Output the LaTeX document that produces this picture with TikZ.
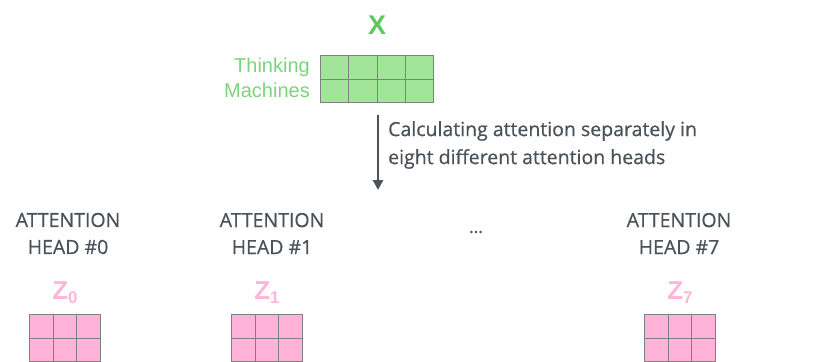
\documentclass[tikz,border=0pt]{standalone}
\usepackage{fontspec}
\setmainfont{Open Sans}
\newfontfamily\medsans{Open Sans}[FakeBold=0.6]
\newfontfamily\helv{Liberation Sans}
\usetikzlibrary{arrows.meta, positioning}
\definecolor{xgreen}{HTML}{5CC85C}
\definecolor{cellgreen}{HTML}{A3E49B}
\definecolor{wordgreen}{HTML}{7AD47A}
\definecolor{cellpink}{HTML}{FFB3D9}
\definecolor{zpink}{HTML}{FFB6DA}
\definecolor{textgray}{HTML}{4A525A}
\definecolor{gridgray}{HTML}{808080}

\begin{document}
\begin{tikzpicture}[x=1pt, y=-1pt,
    gcell/.style={draw=gridgray, fill=cellgreen, line width=1pt, inner sep=0pt,
      minimum width=28.25pt, minimum height=23.5pt, anchor=north west},
    pcell/.style={draw=gridgray, fill=cellpink, line width=1pt, inner sep=0pt,
      minimum width=23.67pt, minimum height=23.5pt, anchor=north west},
    headlabel/.style={font=\medsans\fontsize{19.5}{27}\selectfont, text=textgray, align=center},
    zlabel/.style={font=\helv\bfseries\fontsize{26}{26}\selectfont, text=zpink}]
  \useasboundingbox (0,0) rectangle (826,361);
  \clip (0,0) rectangle (826,361);

  % input X
  \node[font=\helv\bfseries\fontsize{27}{27}\selectfont, text=xgreen] (xlab) at (377,25) {X};
  \foreach \r in {0,1}
    \foreach \c in {0,...,3}
      \node[gcell] (g\r\c) at (320+28.25*\c, 55+23.5*\r) {};
  \node[font=\helv\fontsize{20}{25}\selectfont, text=wordgreen, align=right,
    anchor=east, inner sep=0pt] (words) at (310,78) {Thinking\\Machines};

  % arrow + note
  \coordinate (arrtop) at (378,115);
  \coordinate (arrbot) at (378,190);
  \draw[textgray, line width=2.8pt, -{Triangle[width=10pt,length=10pt]}] (arrtop) -- (arrbot);
  \node[font=\medsans\fontsize{19.5}{28}\selectfont, text=textgray, align=left,
    anchor=west, inner sep=0pt] (note) at (388,145)
    {Calculating attention separately in\\eight different attention heads};

  % heads
  \foreach \h/\hx/\mx in {0/68/29, 1/272/231, 7/679/644} {
    \node[headlabel] (head\h) at (\hx,233.5) {ATTENTION\\HEAD \#\h};
    \node[zlabel] (z\h) at (\mx+36,293) {Z\raisebox{-4pt}{\fontsize{17}{17}\selectfont\h}};
    \foreach \r in {0,1}
      \foreach \c in {0,1,2}
        \node[pcell] (p\h\r\c) at (\mx+23.67*\c, 314+23.5*\r) {};
  }
  \node[font=\medsans\fontsize{17}{17}\selectfont, text=textgray] (dots) at (476,232) {...};
\end{tikzpicture}
\end{document}
